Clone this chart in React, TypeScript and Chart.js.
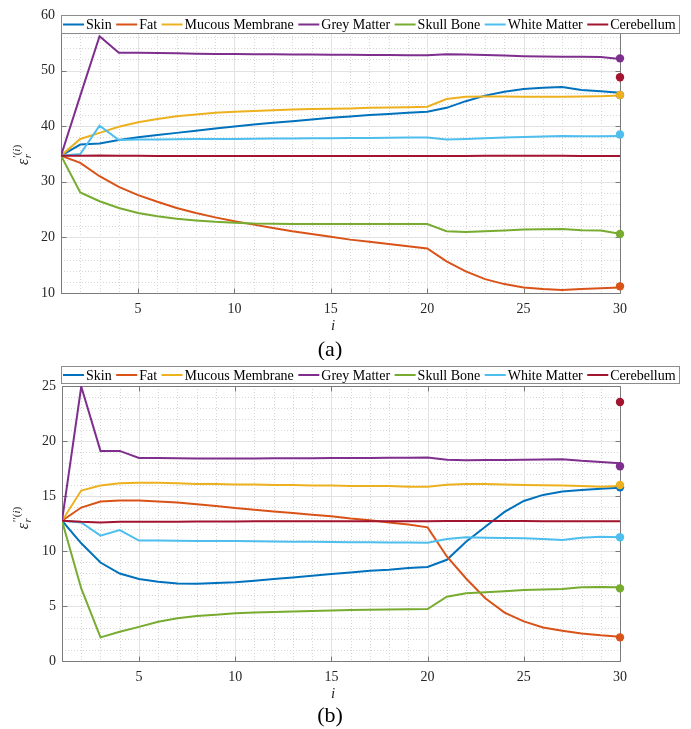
import React, { useEffect, useRef } from "react";
import { Chart, registerables } from "chart.js";

Chart.register(...registerables);

const iterations = [1, 2, 3, 4, 5, 6, 7, 8, 9, 10, 11, 12, 13, 14, 15, 16, 17, 18, 19, 20, 21, 22, 23, 24, 25, 26, 27, 28, 29, 30];
const xTickValues = [5, 10, 15, 20, 25, 30];
const tissueNames = ["Skin", "Fat", "Mucous Membrane", "Grey Matter", "Skull Bone", "White Matter", "Cerebellum"];
const tissueColors = ["#0072BD", "#D95319", "#EDB120", "#7E2F8E", "#77AC30", "#4DBEEE", "#A2142F"];

// (a) real part  eps'_r
const skinRe = [34.7, 36.7, 36.9, 37.5, 38.0, 38.4, 38.8, 39.2, 39.6, 39.95, 40.3, 40.6, 40.9, 41.2, 41.5, 41.75, 42.0, 42.2, 42.4, 42.6, 43.3, 44.5, 45.5, 46.2, 46.7, 46.9, 47.05, 46.5, 46.3, 46.0];
const fatRe = [34.7, 33.4, 31.0, 29.1, 27.6, 26.4, 25.3, 24.4, 23.6, 22.9, 22.3, 21.7, 21.1, 20.6, 20.1, 19.6, 19.2, 18.8, 18.4, 18.0, 15.7, 13.9, 12.5, 11.6, 11.0, 10.7, 10.55, 10.7, 10.85, 11.0];
const mucousRe = [34.7, 37.7, 38.8, 39.9, 40.7, 41.3, 41.8, 42.1, 42.4, 42.6, 42.75, 42.85, 43.0, 43.1, 43.15, 43.2, 43.3, 43.35, 43.4, 43.5, 44.9, 45.3, 45.35, 45.35, 45.3, 45.3, 45.3, 45.35, 45.4, 45.5];
const greyRe = [34.7, 45.5, 56.2, 53.2, 53.2, 53.15, 53.1, 53.05, 53.0, 53.0, 52.95, 52.95, 52.9, 52.9, 52.85, 52.85, 52.8, 52.8, 52.75, 52.75, 52.95, 52.9, 52.8, 52.7, 52.6, 52.55, 52.5, 52.5, 52.45, 52.1];
const skullRe = [34.7, 28.1, 26.5, 25.3, 24.4, 23.8, 23.35, 23.05, 22.8, 22.65, 22.5, 22.45, 22.4, 22.4, 22.4, 22.4, 22.4, 22.4, 22.4, 22.4, 21.1, 20.95, 21.1, 21.25, 21.4, 21.45, 21.5, 21.3, 21.25, 20.65];
const whiteRe = [34.7, 35.0, 40.1, 37.5, 37.6, 37.62, 37.65, 37.68, 37.7, 37.72, 37.75, 37.78, 37.8, 37.82, 37.85, 37.88, 37.9, 37.92, 37.95, 37.98, 37.6, 37.7, 37.85, 37.95, 38.05, 38.15, 38.25, 38.2, 38.2, 38.25];
const cerebRe = [34.7, 34.7, 34.75, 34.7, 34.7, 34.65, 34.65, 34.65, 34.65, 34.65, 34.65, 34.65, 34.65, 34.65, 34.65, 34.65, 34.65, 34.65, 34.65, 34.65, 34.65, 34.65, 34.7, 34.7, 34.7, 34.7, 34.7, 34.65, 34.65, 34.65];
const targetsRe = [45.6, 11.2, 45.6, 52.2, 20.6, 38.5, 48.8];
const yTicksRe = [10, 20, 30, 40, 50, 60];

// (b) imaginary part  eps''_r
const skinIm = [12.75, 10.7, 8.95, 7.95, 7.45, 7.2, 7.05, 7.03, 7.08, 7.15, 7.3, 7.45, 7.6, 7.75, 7.9, 8.05, 8.2, 8.3, 8.45, 8.55, 9.2, 10.85, 12.2, 13.55, 14.55, 15.1, 15.4, 15.55, 15.65, 15.75];
const fatIm = [12.75, 13.95, 14.5, 14.58, 14.58, 14.5, 14.4, 14.25, 14.1, 13.9, 13.75, 13.6, 13.45, 13.3, 13.15, 12.95, 12.8, 12.6, 12.4, 12.15, 9.5, 7.5, 5.7, 4.4, 3.6, 3.05, 2.75, 2.5, 2.33, 2.2];
const mucousIm = [12.75, 15.5, 15.95, 16.15, 16.2, 16.2, 16.15, 16.1, 16.1, 16.05, 16.05, 16.0, 16.0, 15.95, 15.95, 15.9, 15.9, 15.9, 15.85, 15.85, 16.03, 16.1, 16.1, 16.05, 16.0, 15.98, 15.95, 15.9, 15.85, 15.9];
const greyIm = [12.75, 24.95, 19.1, 19.1, 18.45, 18.45, 18.43, 18.42, 18.42, 18.42, 18.42, 18.43, 18.43, 18.44, 18.45, 18.45, 18.46, 18.47, 18.48, 18.5, 18.3, 18.25, 18.27, 18.28, 18.3, 18.32, 18.35, 18.2, 18.1, 17.97];
const skullIm = [12.75, 6.6, 2.15, 2.66, 3.1, 3.57, 3.88, 4.1, 4.2, 4.33, 4.4, 4.45, 4.5, 4.55, 4.6, 4.63, 4.66, 4.68, 4.7, 4.73, 5.85, 6.15, 6.25, 6.35, 6.45, 6.5, 6.55, 6.7, 6.72, 6.7];
const whiteIm = [12.75, 12.6, 11.4, 11.9, 10.95, 10.95, 10.93, 10.92, 10.9, 10.9, 10.88, 10.87, 10.85, 10.83, 10.82, 10.8, 10.8, 10.78, 10.77, 10.75, 11.1, 11.25, 11.2, 11.18, 11.15, 11.1, 11.0, 11.2, 11.3, 11.25];
const cerebIm = [12.75, 12.65, 12.6, 12.65, 12.65, 12.65, 12.67, 12.68, 12.68, 12.68, 12.7, 12.7, 12.7, 12.7, 12.7, 12.7, 12.7, 12.7, 12.7, 12.7, 12.72, 12.72, 12.72, 12.72, 12.72, 12.7, 12.7, 12.7, 12.7, 12.7];
const targetsIm = [15.8, 2.15, 16.0, 17.7, 6.6, 11.25, 23.55];
const yTicksIm = [0, 5, 10, 15, 20, 25];

const SERIF = "'Liberation Serif', 'Times New Roman', serif";
const TEXT_COLOR = "#262626";

const framePlugin = {
  id: "frame",
  beforeDatasetsDraw(chart: any, _args: any, opts: any) {
    const { ctx, chartArea } = chart;
    const { left, right, top, bottom } = chartArea;
    const xs = chart.scales.x;
    const ys = chart.scales.y;
    ctx.save();
    ctx.lineWidth = 1;
    // minor grid (dotted)
    ctx.strokeStyle = "#d6d6d6";
    ctx.setLineDash([1, 2]);
    ctx.beginPath();
    for (const v of iterations) {
      const px = Math.round(xs.getPixelForValue(v)) + 0.5;
      ctx.moveTo(px, top);
      ctx.lineTo(px, bottom);
    }
    for (let v = ys.min; v <= ys.max + 1e-9; v += opts.yMinor) {
      const py = Math.round(ys.getPixelForValue(v)) + 0.5;
      ctx.moveTo(left, py);
      ctx.lineTo(right, py);
    }
    ctx.stroke();
    // major grid (solid)
    ctx.setLineDash([]);
    ctx.strokeStyle = "#e2e2e2";
    ctx.beginPath();
    for (const t of xs.ticks) {
      const px = Math.round(xs.getPixelForValue(t.value)) + 0.5;
      ctx.moveTo(px, top);
      ctx.lineTo(px, bottom);
    }
    for (const t of ys.ticks) {
      const py = Math.round(ys.getPixelForValue(t.value)) + 0.5;
      ctx.moveTo(left, py);
      ctx.lineTo(right, py);
    }
    ctx.stroke();
    // box
    ctx.strokeStyle = "#7a7a7a";
    ctx.beginPath();
    const l = Math.round(left) + 0.5, r = Math.round(right) + 0.5;
    const t0 = Math.round(top) + 0.5, b = Math.round(bottom) + 0.5;
    ctx.rect(l, t0, r - l, b - t0);
    // inward ticks
    const tl = 5;
    for (const t of xs.ticks) {
      const px = Math.round(xs.getPixelForValue(t.value)) + 0.5;
      ctx.moveTo(px, b);
      ctx.lineTo(px, b - tl);
      ctx.moveTo(px, t0);
      ctx.lineTo(px, t0 + tl);
    }
    for (const t of ys.ticks) {
      const py = Math.round(ys.getPixelForValue(t.value)) + 0.5;
      ctx.moveTo(l, py);
      ctx.lineTo(l + tl, py);
      ctx.moveTo(r, py);
      ctx.lineTo(r - tl, py);
    }
    ctx.stroke();
    ctx.restore();
  },
};

const boxLegendPlugin = {
  id: "boxLegend",
  afterDraw(chart: any, _args: any, opts: any) {
    const { ctx } = chart;
    const items = chart.data.datasets.filter((d: any) => d.legendEntry);
    ctx.save();
    ctx.font = "14px " + SERIF;
    const lineLen = 21;
    let x = opts.left + 2;
    const layout: any[] = [];
    for (const d of items) {
      const w = ctx.measureText(d.label).width;
      layout.push({ d, x0: x, tx: x + lineLen + 2, w });
      x = x + lineLen + 2 + w + 4.5;
    }
    const boxRight = x - 4.5 + 3;
    const top = opts.top, h = opts.height;
    ctx.fillStyle = "#ffffff";
    ctx.fillRect(opts.left, top, boxRight - opts.left, h);
    ctx.strokeStyle = "#8c8c8c";
    ctx.lineWidth = 1;
    ctx.strokeRect(Math.round(opts.left) + 0.5, Math.round(top) + 0.5, Math.round(boxRight - opts.left), Math.round(h));
    const cy = top + h / 2 + 0.5;
    ctx.textBaseline = "middle";
    ctx.textAlign = "left";
    for (const it of layout) {
      ctx.strokeStyle = it.d.borderColor;
      ctx.lineWidth = 2;
      ctx.beginPath();
      ctx.moveTo(it.x0, cy);
      ctx.lineTo(it.x0 + lineLen, cy);
      ctx.stroke();
      ctx.fillStyle = "#000000";
      ctx.fillText(it.d.label, it.tx, cy + 1);
    }
    ctx.restore();
  },
};

const labelsPlugin = {
  id: "axisLabels",
  afterDraw(chart: any, _args: any, opts: any) {
    const { ctx, chartArea } = chart;
    ctx.save();
    ctx.fillStyle = TEXT_COLOR;
    // y label: epsilon_r^{primes(i)}
    ctx.translate(opts.yLabelX, opts.yLabelY);
    ctx.rotate(-Math.PI / 2);
    ctx.textBaseline = "alphabetic";
    ctx.textAlign = "left";
    const big = "italic 16px " + SERIF;
    const smallIt = "italic 11px " + SERIF;
    const small = "11px " + SERIF;
    ctx.font = big;
    const wE = ctx.measureText("\u03B5").width;
    ctx.font = small;
    const wP = ctx.measureText(opts.primes + "(").width;
    const wC = ctx.measureText(")").width;
    ctx.font = smallIt;
    const wI = ctx.measureText("i").width;
    const total = wE + 1 + wP + wI + wC;
    const x0 = -total / 2;
    const base = 4;
    ctx.font = big;
    ctx.fillText("\u03B5", x0, base);
    ctx.font = smallIt;
    ctx.fillText("r", x0 + wE + 0.5, base + 3);
    let sx = x0 + wE + 1;
    const sb = base - 8;
    ctx.font = small;
    ctx.fillText(opts.primes + "(", sx, sb);
    sx += wP;
    ctx.font = smallIt;
    ctx.fillText("i", sx, sb);
    sx += wI;
    ctx.font = small;
    ctx.fillText(")", sx, sb);
    ctx.setTransform(1, 0, 0, 1, 0, 0);
    // x label
    ctx.font = "italic 15px " + SERIF;
    ctx.textAlign = "center";
    ctx.textBaseline = "middle";
    ctx.fillText("i", opts.xLabelX, chartArea.bottom + opts.xLabelDy);
    // caption
    ctx.fillStyle = "#000000";
    ctx.font = "22px " + SERIF;
    ctx.fillText(opts.caption, opts.captionX, opts.captionY);
    ctx.restore();
  },
};

function buildConfig(p: {
  series: number[][];
  targets: number[];
  yTicks: number[];
  yMinor: number;
  padTop: number;
  yAxisWidth: number;
  xAxisHeight: number;
  legendTop: number;
  legendHeight: number;
  primes: string;
  yLabelY: number;
  caption: string;
  captionY: number;
}) {
  const lineSets = p.series.map((s, k) => ({
    label: tissueNames[k],
    legendEntry: true,
    data: iterations.map((x, j) => ({ x, y: s[j] })),
    borderColor: tissueColors[k],
    backgroundColor: tissueColors[k],
    borderWidth: 2,
    pointRadius: 0,
    tension: 0,
    fill: false,
    order: 10 - k,
  }));
  const dotSets = p.targets.map((v, k) => ({
    label: tissueNames[k] + " target",
    legendEntry: false,
    data: [{ x: 30, y: v }],
    showLine: false,
    clip: false,
    pointRadius: 4.2,
    pointBorderWidth: 0,
    pointBackgroundColor: tissueColors[k],
    borderColor: tissueColors[k],
    backgroundColor: tissueColors[k],
    order: -k,
  }));
  const yMin = p.yTicks[0];
  const yMax = p.yTicks[p.yTicks.length - 1];
  return {
    type: "line",
    data: { datasets: [...lineSets, ...dotSets] },
    options: {
      responsive: false,
      animation: false,
      events: [],
      layout: { padding: { left: 0, right: 71, top: p.padTop, bottom: 0 } },
      plugins: {
        legend: { display: false },
        tooltip: { enabled: false },
        frame: { yMinor: p.yMinor },
        boxLegend: { left: 61, top: p.legendTop, height: p.legendHeight },
        axisLabels: {
          primes: p.primes,
          yLabelX: 24,
          yLabelY: p.yLabelY,
          xLabelX: 333,
          xLabelDy: 33,
          caption: p.caption,
          captionX: 330,
          captionY: p.captionY,
        },
      },
      scales: {
        x: {
          type: "linear",
          min: 1,
          max: 30,
          afterBuildTicks: (s: any) => {
            s.ticks = xTickValues.map((v) => ({ value: v }));
          },
          afterFit: (s: any) => {
            s.height = p.xAxisHeight;
          },
          grid: { display: false, drawTicks: false },
          border: { display: false },
          ticks: {
            autoSkip: false,
            maxRotation: 0,
            padding: 8,
            color: TEXT_COLOR,
            font: { family: SERIF, size: 14 },
          },
        },
        y: {
          type: "linear",
          min: yMin,
          max: yMax,
          afterBuildTicks: (s: any) => {
            s.ticks = p.yTicks.map((v) => ({ value: v }));
          },
          afterFit: (s: any) => {
            s.width = p.yAxisWidth;
          },
          grid: { display: false, drawTicks: false },
          border: { display: false },
          ticks: {
            autoSkip: false,
            padding: 6,
            color: TEXT_COLOR,
            font: { family: SERIF, size: 14 },
          },
        },
      },
    },
    plugins: [framePlugin, boxLegendPlugin, labelsPlugin],
  };
}

export default function App() {
  const topRef = useRef<HTMLCanvasElement | null>(null);
  const botRef = useRef<HTMLCanvasElement | null>(null);

  useEffect(() => {
    const c1 = new Chart(
      topRef.current as HTMLCanvasElement,
      buildConfig({
        series: [skinRe, fatRe, mucousRe, greyRe, skullRe, whiteRe, cerebRe],
        targets: targetsRe,
        yTicks: yTicksRe,
        yMinor: 2,
        padTop: 15,
        yAxisWidth: 61,
        xAxisHeight: 67,
        legendTop: 15,
        legendHeight: 18,
        primes: "\u2032",
        yLabelY: 155,
        caption: "(a)",
        captionY: 350,
      }) as any
    );
    const c2 = new Chart(
      botRef.current as HTMLCanvasElement,
      buildConfig({
        series: [skinIm, fatIm, mucousIm, greyIm, skullIm, whiteIm, cerebIm],
        targets: targetsIm,
        yTicks: yTicksIm,
        yMinor: 1,
        padTop: 26,
        yAxisWidth: 62,
        xAxisHeight: 68,
        legendTop: 6,
        legendHeight: 17,
        primes: "\u2032\u2032",
        yLabelY: 158,
        caption: "(b)",
        captionY: 356,
      }) as any
    );
    return () => {
      c1.destroy();
      c2.destroy();
    };
  }, []);

  return (
    <div style={{ position: "fixed", left: 0, top: 0, width: 691, height: 729, background: "#ffffff" }}>
      <canvas ref={topRef} width={691} height={360} style={{ position: "absolute", left: 0, top: 0, width: 691, height: 360 }} />
      <canvas ref={botRef} width={691} height={369} style={{ position: "absolute", left: 0, top: 360, width: 691, height: 369 }} />
    </div>
  );
}
